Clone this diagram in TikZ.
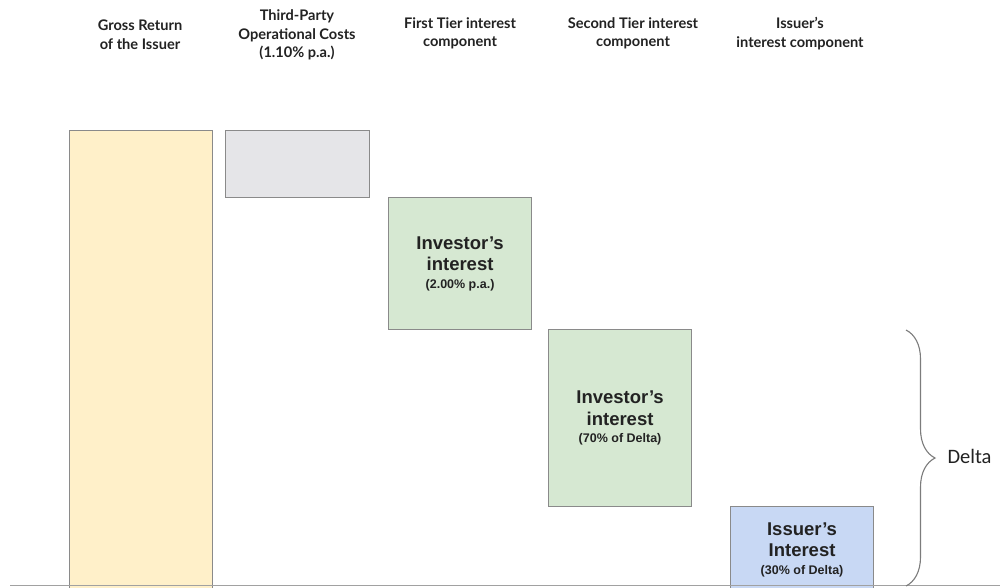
\documentclass[tikz,border=0pt]{standalone}
\usepackage{fontspec}
\usetikzlibrary{decorations.pathreplacing}
\newfontfamily\hdrfont{Lato}
\newfontfamily\boxfont{Liberation Sans}
\newfontfamily\delfont{Carlito}
\definecolor{yel}{HTML}{FFF0C9}
\definecolor{gry}{HTML}{E5E5E8}
\definecolor{grn}{HTML}{D6E8D2}
\definecolor{blu}{HTML}{C8D8F4}
\definecolor{edge}{HTML}{8A8A8A}
\definecolor{txt}{HTML}{222222}
\newcommand{\smalltxt}{\fontsize{12.5}{14}\selectfont}
\begin{document}
\begin{tikzpicture}[x=1pt,y=-1pt,
  bar/.style={draw=edge, line width=1.1pt, inner sep=0pt, anchor=north west, align=center, text=txt},
  hdr/.style={font=\hdrfont\bfseries\fontsize{14.6}{18.5}\selectfont, align=center, text=txt},
  big/.style={font=\boxfont\bfseries\fontsize{18.5}{21.5}\selectfont}]
\useasboundingbox (0,0) rectangle (1000,587);
\fill[white] (0,0) rectangle (1000,587);
% header labels
\node[hdr] (h1) at (140,34.5) {Gross Return\\of the Issuer};
\node[hdr] (h2) at (297,35) {Third-Party\\Operational Costs\\(1.10\% p.a.)};
\node[hdr] (h3) at (460,33.5) {First Tier interest\\component};
\node[hdr] (h4) at (633,33.5) {Second Tier interest\\component};
\node[hdr] (h5) at (800,33.5) {Issuer’s\\interest component};
% bars
\node[bar, fill=yel, minimum width=143pt, minimum height=459pt] (b1) at (69,130) {};
\node[bar, fill=gry, minimum width=144pt, minimum height=67pt] (b2) at (225,130) {};
\node[bar, fill=grn, minimum width=143pt, minimum height=132pt, big] (b3) at (388,197)
  {Investor’s\\interest\\[-4pt]{\smalltxt (2.00\% p.a.)}};
\node[bar, fill=grn, minimum width=143pt, minimum height=177pt, big] (b4) at (548,329)
  {Investor’s\\interest\\[-4pt]{\smalltxt (70\% of Delta)}};
\node[bar, fill=blu, minimum width=143pt, minimum height=83pt, big] (b5) at (730,506)
  {\\[-6pt]Issuer’s\\Interest\\[-4pt]{\smalltxt (30\% of Delta)}};
% baseline
\coordinate (l1) at (10,585.5);
\coordinate (l2) at (1000,585.5);
\draw[color=edge!80, line width=1.5pt] (l1) -- (l2);
% brace
\coordinate (bt) at (906,330);
\coordinate (bb) at (906,586);
\draw[color=edge!90!black, line width=1.1pt, decorate, decoration={brace, amplitude=29pt}] (bt) -- (bb);
\node[font=\delfont\fontsize{20.5}{24}\selectfont, anchor=west, text=txt] (delta) at (944,456) {Delta};
\end{tikzpicture}
\end{document}
